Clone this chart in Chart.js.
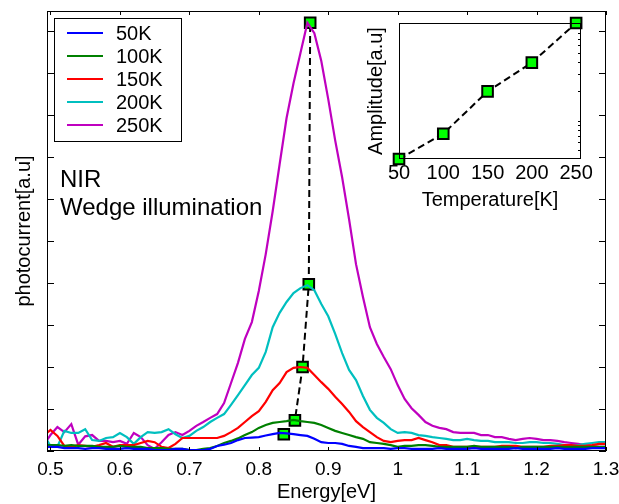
<!DOCTYPE html>
<html>
<head>
<meta charset="utf-8">
<script src="https://cdn.jsdelivr.net/npm/chart.js@4.4.0/dist/chart.umd.min.js"></script>
<style>
  html, body { margin: 0; padding: 0; background: #fff; }
  #wrap { position: relative; width: 619px; height: 504px; }
  #main { position: absolute; left: 0; top: 0; }
  #inset { position: absolute; left: 340px; top: 0; }
</style>
</head>
<body>
<div id="wrap">
  <canvas id="main" width="619" height="504"></canvas>
  <canvas id="inset" width="270" height="215"></canvas>
</div>
<script>
// photon energy grid [eV]
const energy = [0.495, 0.50, 0.51, 0.52, 0.53, 0.54, 0.55, 0.56, 0.57, 0.58, 0.59,
  0.60, 0.61, 0.62, 0.63, 0.64, 0.65, 0.66, 0.67, 0.68, 0.69,
  0.70, 0.71, 0.72, 0.73, 0.74, 0.75, 0.76, 0.77, 0.78, 0.79,
  0.80, 0.81, 0.82, 0.83, 0.84, 0.85, 0.86, 0.87, 0.88, 0.89,
  0.90, 0.91, 0.92, 0.93, 0.94, 0.95, 0.96, 0.97, 0.98, 0.99,
  1.00, 1.01, 1.02, 1.03, 1.04, 1.05, 1.06, 1.07, 1.08, 1.09,
  1.10, 1.11, 1.12, 1.13, 1.14, 1.15, 1.16, 1.17, 1.18, 1.19,
  1.20, 1.21, 1.22, 1.23, 1.24, 1.25, 1.26, 1.27, 1.28, 1.29, 1.30]

// photocurrent (a.u.) per temperature
const pc50K = [0.1, 0.1, 0.1, 0.07, 0.07, 0.07, 0.05, 0.07, 0.07, 0.05, 0.05,
  0.05, 0.07, 0.05, 0.05, 0.05, 0.02, 0.02, 0.02, 0.05, 0.05,
  0.02, 0.02, 0.02, 0.05, 0.12, 0.15, 0.19, 0.26, 0.31, 0.32,
  0.33, 0.37, 0.4, 0.43, 0.42, 0.4, 0.38, 0.36, 0.29, 0.21,
  0.19, 0.19, 0.17, 0.12, 0.1, 0.07, 0.07, 0.07, 0.07, 0.05,
  0.07, 0.07, 0.05, 0.05, 0.05, 0.05, 0.07, 0.05, 0.05, 0.05,
  0.05, 0.07, 0.05, 0.05, 0.05, 0.05, 0.05, 0.07, 0.05, 0.05,
  0.05, 0.05, 0.05, 0.07, 0.05, 0.05, 0.05, 0.05, 0.07, 0.07, 0.07]
const pc100K = [0.14, 0.14, 0.14, 0.12, 0.14, 0.12, 0.12, 0.12, 0.1, 0.1, 0.1,
  0.12, 0.1, 0.1, 0.1, 0.07, 0.07, 0.07, 0.05, 0.05, 0.05,
  0.02, 0.02, 0.05, 0.07, 0.12, 0.19, 0.24, 0.3, 0.38, 0.45,
  0.55, 0.62, 0.67, 0.69, 0.71, 0.74, 0.71, 0.69, 0.67, 0.62,
  0.55, 0.48, 0.43, 0.38, 0.33, 0.29, 0.21, 0.19, 0.17, 0.14,
  0.1, 0.12, 0.12, 0.14, 0.14, 0.12, 0.1, 0.1, 0.1, 0.1,
  0.1, 0.12, 0.1, 0.1, 0.1, 0.1, 0.1, 0.07, 0.1, 0.1,
  0.1, 0.1, 0.1, 0.1, 0.1, 0.1, 0.1, 0.1, 0.1, 0.1, 0.1]
const pc150K = [0.43, 0.5, 0.36, 0.12, 0.1, 0.14, 0.12, 0.1, 0.14, 0.19, 0.1,
  0.14, 0.14, 0.14, 0.19, 0.24, 0.21, 0.1, 0.07, 0.17, 0.31,
  0.31, 0.31, 0.31, 0.31, 0.31, 0.36, 0.45, 0.55, 0.69, 0.83,
  0.95, 1.17, 1.45, 1.62, 1.88, 1.98, 2.0, 1.98, 1.81, 1.64,
  1.48, 1.29, 1.12, 0.93, 0.71, 0.57, 0.45, 0.33, 0.24, 0.21,
  0.24, 0.26, 0.26, 0.31, 0.26, 0.21, 0.14, 0.14, 0.1, 0.1,
  0.1, 0.1, 0.1, 0.1, 0.1, 0.12, 0.12, 0.12, 0.1, 0.1,
  0.1, 0.1, 0.12, 0.12, 0.14, 0.14, 0.12, 0.12, 0.14, 0.17, 0.17]
const pc200K = [0.26, 0.12, 0.1, 0.48, 0.43, 0.43, 0.52, 0.26, 0.24, 0.31, 0.33,
  0.43, 0.33, 0.17, 0.33, 0.45, 0.43, 0.45, 0.52, 0.4, 0.31,
  0.36, 0.48, 0.57, 0.69, 0.79, 0.88, 1.1, 1.33, 1.57, 1.81,
  1.98, 2.36, 2.95, 3.29, 3.55, 3.76, 3.88, 3.95, 3.83, 3.5,
  3.21, 2.79, 2.33, 1.93, 1.69, 1.31, 0.98, 0.79, 0.67, 0.52,
  0.43, 0.45, 0.43, 0.38, 0.36, 0.33, 0.31, 0.29, 0.26, 0.26,
  0.29, 0.26, 0.24, 0.24, 0.21, 0.21, 0.21, 0.19, 0.19, 0.21,
  0.21, 0.19, 0.19, 0.17, 0.14, 0.14, 0.14, 0.17, 0.19, 0.21, 0.21]
const pc250K = [0.26, 0.38, 0.57, 0.45, 0.64, 0.15, 0.35, 0.38, 0.24, 0.24, 0.21,
  0.24, 0.17, 0.43, 0.33, 0.14, 0.05, 0.21, 0.38, 0.45, 0.38,
  0.48, 0.6, 0.69, 0.79, 0.88, 1.14, 1.62, 2.1, 2.67, 3.07,
  3.81, 4.69, 5.71, 6.83, 7.93, 8.76, 9.48, 10.2, 9.95, 9.29,
  8.38, 7.4, 6.52, 5.52, 4.45, 3.67, 2.95, 2.55, 2.24, 1.95,
  1.57, 1.24, 1.02, 0.86, 0.69, 0.6, 0.55, 0.52, 0.45, 0.43,
  0.43, 0.43, 0.38, 0.38, 0.33, 0.33, 0.29, 0.26, 0.29, 0.31,
  0.29, 0.26, 0.26, 0.24, 0.21, 0.19, 0.17, 0.14, 0.12, 0.1, 0.1]

// peak positions and amplitudes
const temperatures = [50, 100, 150, 200, 250]
const peakEnergy = [0.836, 0.852, 0.863, 0.872, 0.874]
const peakAmplitude = [0.40, 0.73, 2.0, 3.97, 10.2]

const legendLabels = ['50K', '100K', '150K', '200K', '250K']
const seriesColors = ['#0000ff', '#008000', '#ff0000', '#00bfbf', '#bf00bf']
const xTicks = [0.5, 0.6, 0.7, 0.8, 0.9, 1.0, 1.1, 1.2, 1.3]
const xTickLabels = ['0.5', '0.6', '0.7', '0.8', '0.9', '1', '1.1', '1.2', '1.3']
const yTicks = [0, 1, 2, 3, 4, 5, 6, 7, 8, 9, 10]
const tempTicks = [50, 100, 150, 200, 250]
const ampMinorTicks = [0.5, 0.6, 0.7, 0.8, 0.9, 1, 2, 3, 4, 5, 6, 7, 8, 9, 10]

const FONT = '"Liberation Sans", Arial, sans-serif'

function toPoints(xs, ys) {
    return xs.map((x, i) => ({ x: x, y: ys[i] }))
}

const curves = [pc50K, pc100K, pc150K, pc200K, pc250K]

// frame, inward ticks, legend and annotation for the main axes
const mainDecor = {
    id: 'mainDecor',
    afterDatasetsDraw(chart) {
        const { ctx, chartArea: a, scales } = chart
        ctx.save()
        ctx.strokeStyle = '#000'
        ctx.lineWidth = 1
        ctx.strokeRect(a.left + 0.5, a.top + 0.5, a.right - a.left - 1, a.bottom - a.top - 1)
        ctx.beginPath()
        xTicks.forEach(v => {
            const px = Math.round(scales.x.getPixelForValue(v)) + 0.5
            ctx.moveTo(px, a.top); ctx.lineTo(px, a.top + 4)
            ctx.moveTo(px, a.bottom); ctx.lineTo(px, a.bottom - 4)
        })
        yTicks.forEach(v => {
            const py = Math.round(scales.y.getPixelForValue(v)) + 0.5
            ctx.moveTo(a.left, py); ctx.lineTo(a.left + 7, py)
            ctx.moveTo(a.right, py); ctx.lineTo(a.right - 7, py)
        })
        ctx.stroke()

        // legend
        ctx.fillStyle = '#fff'
        ctx.fillRect(54, 18, 127, 123)
        ctx.strokeRect(54.5, 18.5, 127, 123)
        ctx.font = '20px ' + FONT
        ctx.textBaseline = 'middle'
        ctx.textAlign = 'left'
        legendLabels.forEach((label, i) => {
            const y = 33 + i * 23
            ctx.strokeStyle = seriesColors[i]
            ctx.lineWidth = 2.2
            ctx.beginPath()
            ctx.moveTo(67, y); ctx.lineTo(103, y)
            ctx.stroke()
            ctx.fillStyle = '#000'
            ctx.fillText(label, 116, y + 1)
        })

        ctx.font = '24px ' + FONT
        ctx.textBaseline = 'alphabetic'
        ctx.fillText('NIR', 60, 187)
        ctx.fillText('Wedge illumination', 60, 215)
        ctx.restore()
    }
}

const datasets = curves.map((vals, i) => ({
    label: legendLabels[i],
    data: toPoints(energy, vals),
    borderColor: seriesColors[i],
    borderWidth: 2.2,
    pointRadius: 0,
    tension: 0
}))
datasets.push({
    label: 'peak',
    data: toPoints(peakEnergy, peakAmplitude),
    borderColor: '#000',
    borderWidth: 2,
    borderDash: [7, 4],
    pointStyle: 'rect',
    pointRadius: 7.5,
    pointBackgroundColor: '#00ff00',
    pointBorderColor: '#000',
    pointBorderWidth: 2,
    tension: 0
})

new Chart(document.getElementById('main'), {
    type: 'line',
    data: { datasets: datasets },
    options: {
        responsive: false,
        animation: false,
        devicePixelRatio: 1,
        layout: { padding: { left: 0, right: 13, top: 11, bottom: 0 } },
        plugins: { legend: { display: false }, tooltip: { enabled: false } },
        scales: {
            x: {
                type: 'linear', min: 0.495, max: 1.3,
                grid: { display: false, drawTicks: false },
                border: { display: false },
                ticks: {
                    font: { family: FONT, size: 19 }, color: '#000', padding: 7,
                    maxRotation: 0, autoSkip: false,
                    callback: (v, i) => xTickLabels[i]
                },
                afterBuildTicks: s => { s.ticks = xTicks.map(v => ({ value: v })) },
                afterFit: s => { s.height = 53; s.paddingLeft = 0; s.paddingRight = 0 },
                title: {
                    display: true, text: 'Energy[eV]', color: '#000',
                    font: { family: FONT, size: 20 }, padding: { top: 0, bottom: 0 }
                }
            },
            y: {
                type: 'linear', min: 0, max: 10.48,
                grid: { display: false, drawTicks: false },
                border: { display: false },
                ticks: { display: false },
                afterFit: s => { s.width = 47 },
                title: {
                    display: true, text: 'photocurrent[a.u]', color: '#000',
                    font: { family: FONT, size: 20 }, padding: { top: 12, bottom: 0 }
                }
            }
        }
    },
    plugins: [mainDecor]
})

// inset: amplitude vs temperature
const insetDecor = {
    id: 'insetDecor',
    beforeDatasetsDraw(chart) {
        const { ctx, chartArea: a } = chart
        ctx.save()
        ctx.fillStyle = '#fff'
        ctx.fillRect(a.left, a.top, a.right - a.left, a.bottom - a.top)
        ctx.restore()
    },
    afterDraw(chart) {
        const { ctx, chartArea: a, scales } = chart
        ctx.save()
        ctx.strokeStyle = '#000'
        ctx.lineWidth = 1
        ctx.strokeRect(a.left + 0.5, a.top + 0.5, a.right - a.left - 1, a.bottom - a.top - 1)
        ctx.beginPath()
        ampMinorTicks.forEach(v => {
            const py = Math.round(scales.y.getPixelForValue(v)) + 0.5
            if (py > a.top + 2 && py < a.bottom - 2) {
                ctx.moveTo(a.right, py); ctx.lineTo(a.right - 3, py)
            }
        })
        ctx.stroke()
        ctx.restore()
    }
}

new Chart(document.getElementById('inset'), {
    type: 'line',
    data: {
        datasets: [{
            data: toPoints(temperatures, peakAmplitude),
            borderColor: '#000',
            borderWidth: 2,
            borderDash: [7, 4],
            pointStyle: 'rect',
            pointRadius: 7.5,
            pointBackgroundColor: '#00ff00',
            pointBorderColor: '#000',
            pointBorderWidth: 2,
            tension: 0,
            clip: false
        }]
    },
    options: {
        responsive: false,
        animation: false,
        devicePixelRatio: 1,
        layout: { padding: { left: 0, right: 29, top: 23, bottom: 0 } },
        plugins: { legend: { display: false }, tooltip: { enabled: false } },
        scales: {
            x: {
                type: 'linear', min: 50, max: 255.5,
                grid: { display: false, drawTicks: false },
                border: { display: false },
                ticks: {
                    font: { family: FONT, size: 20 }, color: '#000', padding: 2,
                    maxRotation: 0, autoSkip: false
                },
                afterBuildTicks: s => { s.ticks = tempTicks.map(v => ({ value: v })) },
                afterFit: s => { s.height = 56; s.paddingLeft = 0; s.paddingRight = 0 },
                title: {
                    display: true, text: 'Temperature[K]', color: '#000',
                    font: { family: FONT, size: 20 }, padding: { top: 0, bottom: 3 }
                }
            },
            y: {
                type: 'logarithmic', min: 0.40, max: 10.2,
                grid: { display: false, drawTicks: false },
                border: { display: false },
                ticks: { display: false },
                afterFit: s => { s.width = 59 },
                title: {
                    display: true, text: 'Amplitude[a.u]', color: '#000',
                    font: { family: FONT, size: 20 }, padding: { top: 24, bottom: 0 }
                }
            }
        }
    },
    plugins: [insetDecor]
})
</script>
</body>
</html>
